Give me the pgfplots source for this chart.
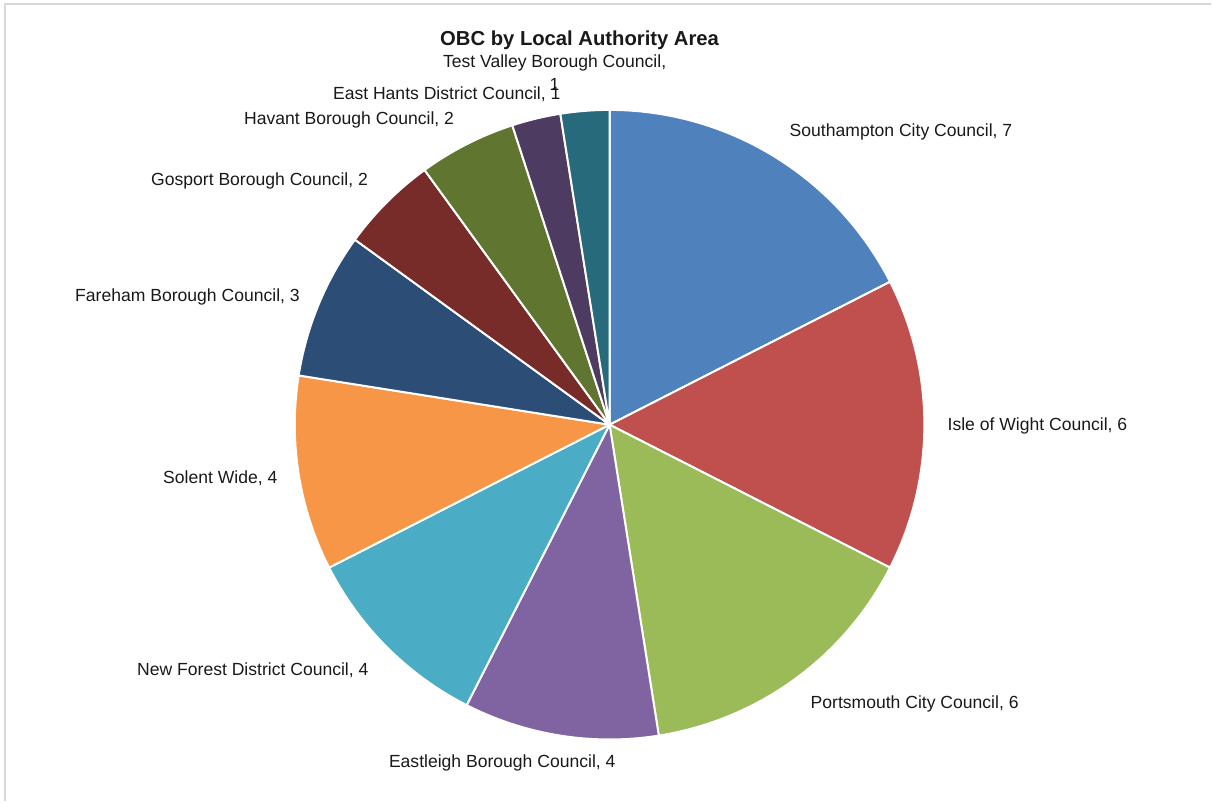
\documentclass[border=0pt]{standalone}
\usepackage{pgfplots}
\pgfplotsset{compat=1.18}
\usepackage{fontspec}
\setmainfont{Liberation Sans}
\definecolor{cA}{HTML}{4F81BD}
\definecolor{cB}{HTML}{C0504D}
\definecolor{cC}{HTML}{9BBB59}
\definecolor{cD}{HTML}{8064A2}
\definecolor{cE}{HTML}{4BACC6}
\definecolor{cF}{HTML}{F79646}
\definecolor{cG}{HTML}{2C4D75}
\definecolor{cH}{HTML}{772C2A}
\definecolor{cI}{HTML}{5F7530}
\definecolor{cJ}{HTML}{4D3B62}
\definecolor{cK}{HTML}{276A7C}
% #1 colour, #2 cumulative count before slice, #3 value; total = 40
\newcommand{\slice}[3]{%
  \addplot[fill=#1, draw=white, line width=1.4pt, line join=round,
    domain={90-360/40*(#2+#3)}:{90-360/40*(#2)}, samples=90]
    ({610+315*cos(x)},{377+315*sin(x)}) -- (610,377) -- cycle;}
\begin{document}
\begin{tikzpicture}
\begin{axis}[scale only axis, width=30.3cm, height=20.05cm,
  xmin=0, xmax=1212, ymin=0, ymax=802, axis lines=none, clip=false]
\path (0,0) rectangle (1212,802);
\draw[black!15, line width=1.2pt] (5,0) -- (5,798) -- (1212,798);
% values: Southampton 7, Isle of Wight 6, Portsmouth 6, Eastleigh 4,
% New Forest 4, Solent Wide 4, Fareham 3, Gosport 2, Havant 2,
% East Hants 1, Test Valley 1
\slice{cA}{0}{7}
\slice{cB}{7}{6}
\slice{cC}{13}{6}
\slice{cD}{19}{4}
\slice{cE}{23}{4}
\slice{cF}{27}{4}
\slice{cG}{31}{3}
\slice{cH}{34}{2}
\slice{cI}{36}{2}
\slice{cJ}{38}{1}
\slice{cK}{39}{1}
\begin{scope}[every node/.style={font=\fontsize{12.5}{15}\selectfont, text=black!90, inner sep=0pt}]
\node[font=\bfseries\fontsize{14.4}{17}\selectfont] at (580,762) {OBC by Local Authority Area};
\node at (555,739) {Test Valley Borough Council,};
\node at (555,717) {1};
\node[anchor=west] at (333,708) {East Hants District Council, 1};
\node[anchor=west] at (244,682) {Havant Borough Council, 2};
\node[anchor=west] at (151,621) {Gosport Borough Council, 2};
\node[anchor=west] at (75,505) {Fareham Borough Council, 3};
\node[anchor=west] at (163,323) {Solent Wide, 4};
\node[anchor=west] at (137,131) {New Forest District Council, 4};
\node[anchor=west] at (389,38) {Eastleigh Borough Council, 4};
\node[anchor=west] at (811,98) {Portsmouth City Council, 6};
\node[anchor=west] at (948,376) {Isle of Wight Council, 6};
\node[anchor=west] at (790,670) {Southampton City Council, 7};
\end{scope}
\end{axis}
\end{tikzpicture}
\end{document}
